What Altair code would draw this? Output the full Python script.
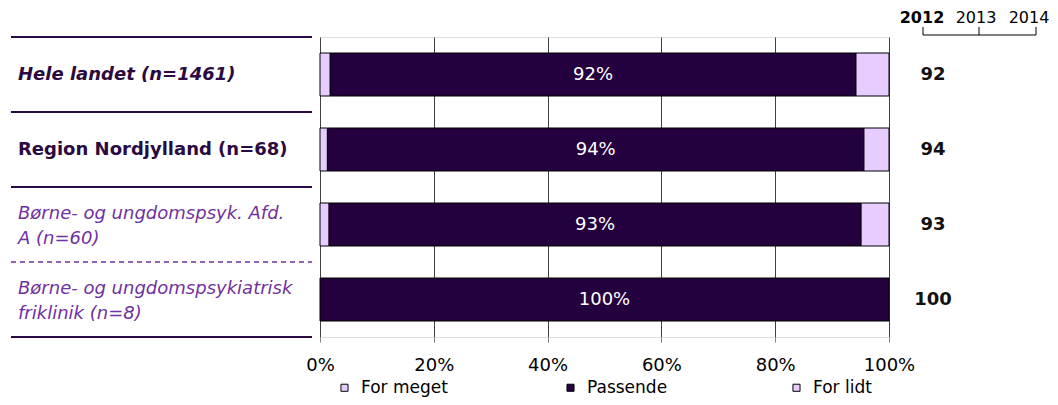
import altair as alt
import pandas as pd

categories = [
    "Hele landet (n=1461)",
    "Region Nordjylland (n=68)",
    "Børne- og ungdomspsyk. Afd. A (n=60)",
    "Børne- og ungdomspsykiatrisk friklinik (n=8)",
]
label_lines = [
    "Hele landet (n=1461)",
    "Region Nordjylland (n=68)",
    "Børne- og ungdomspsyk. Afd.\nA (n=60)",
    "Børne- og ungdomspsykiatrisk\nfriklinik (n=8)",
]
label_style = ["bolditalic", "bold", "italic", "italic"]
series = ["For meget", "Passende", "For lidt"]
for_meget = [1.8, 1.3, 1.6, 0.0]
passende = [92.4, 94.3, 93.5, 100.0]
for_lidt = [5.8, 4.4, 4.9, 0.0]
bar_labels = ["92%", "94%", "93%", "100%"]
values_2012 = ["92", "94", "93", "100"]
years = ["2012", "2013", "2014"]
x_ticks = [0, 20, 40, 60, 80, 100]

LIGHT = "#E6CCFF"
DARK = "#24003F"
LBL_DARK = "#2A0A40"
PURPLE = "#7030A0"
FONT = "DejaVu Sans"
FS = 18

W, H = 569, 300

# segments
rows = []
for i, c in enumerate(categories):
    start = 0.0
    for s, v in zip(series, [for_meget[i], passende[i], for_lidt[i]]):
        if v > 0:
            rows.append({"cat": c, "series": s, "start": start, "end": start + v})
        start += v
seg = pd.DataFrame(rows)

cat_df = pd.DataFrame({
    "cat": categories,
    "label": label_lines,
    "style": label_style,
    "mid": [fm + p / 2 for fm, p in zip(for_meget, passende)],
    "barlabel": bar_labels,
    "v2012": values_2012,
    "idx": list(range(len(categories))),
})

yenc = alt.Y("cat:N", sort=categories,
             scale=alt.Scale(domain=categories, paddingInner=0, paddingOuter=0),
             axis=None)
xscale = alt.Scale(domain=[0, 100], nice=False, zero=True)

bars = alt.Chart(seg).mark_bar(size=43, stroke="#000000", strokeWidth=1).encode(
    x=alt.X("start:Q", scale=xscale,
            axis=alt.Axis(values=x_ticks, labelExpr="datum.value + '%'", title=None,
                          grid=True, gridColor="#404040", gridWidth=1,
                          domain=False, tickColor="#808080", tickSize=5,
                          labelFontSize=FS, labelFont=FONT, labelColor="#000000",
                          labelPadding=14, labelFlush=False, labelOverlap=False)),
    x2="end:Q",
    y=yenc,
    color=alt.Color("series:N",
                    scale=alt.Scale(domain=series, range=[LIGHT, DARK, LIGHT]),
                    legend=alt.Legend(orient="none", legendX=16, legendY=342,
                                      direction="horizontal", columns=3, title=None,
                                      symbolType="square", symbolSize=50,
                                      symbolStrokeColor="#000000", symbolStrokeWidth=1,
                                      labelFontSize=17, labelFont=FONT, labelColor="#000000",
                                      gridAlign="all", columnPadding=114, labelOffset=8,
                                      padding=0)),
)

base = alt.Chart(cat_df)

inner_text = base.mark_text(color="#FFFFFF", fontSize=FS, font=FONT).encode(
    x=alt.X("mid:Q", scale=xscale), y=yenc, text="barlabel:N")

right_vals = base.mark_text(fontSize=FS, font=FONT, fontWeight="bold",
                            color="#111111").encode(
    x=alt.value(W + 44), y=yenc, text="v2012:N")

def left_labels(style, weight, fstyle, color, dy):
    return base.transform_filter(alt.datum.style == style).mark_text(
        align="left", baseline="middle", fontSize=FS, font=FONT, fontWeight=weight,
        fontStyle=fstyle, color=color, lineBreak="\n", lineHeight=25, dy=dy).encode(
        x=alt.value(-302), y=yenc, text="label:N")

lab1 = left_labels("bolditalic", "bold", "italic", LBL_DARK, 0)
lab2 = left_labels("bold", "bold", "normal", LBL_DARK, 0)
lab3 = left_labels("italic", "normal", "italic", PURPLE, -11)

y_top = alt.Y("cat:N", sort=categories, bandPosition=0,
              scale=alt.Scale(domain=categories, paddingInner=0, paddingOuter=0),
              axis=None)
sep_solid = base.transform_filter(alt.datum.idx < 3).mark_rule(
    color=LBL_DARK, strokeWidth=2).encode(
    y=y_top, x=alt.value(-309), x2=alt.value(-8))
sep_dash = base.transform_filter(alt.datum.idx == 3).mark_rule(
    color=PURPLE, strokeWidth=1.5, strokeDash=[5, 4]).encode(
    y=y_top, x=alt.value(-309), x2=alt.value(-8))
sep_bottom = base.transform_filter(alt.datum.idx == 0).mark_rule(
    color=LBL_DARK, strokeWidth=2).encode(
    y=alt.value(H), x=alt.value(-309), x2=alt.value(-8))

# year header with bracket
year_x = [W + 34, W + 90, W + 147]
year_text_x = [W + 33, W + 87, W + 140]
hdr_layers = []
for yr, xp, xt, bold in zip(years, year_x, year_text_x, [True, False, False]):
    hdr_layers.append(alt.Chart(pd.DataFrame({"t": [yr]})).mark_text(
        fontSize=16, font=FONT, fontWeight="bold" if bold else "normal",
        color="#000000", baseline="middle").encode(
        x=alt.value(xt), y=alt.value(-19), text="t:N"))
    hdr_layers.append(alt.Chart(pd.DataFrame({"t": [yr]})).mark_rule(
        color="#000000", strokeWidth=1).encode(
        x=alt.value(xp), y=alt.value(-10), y2=alt.value(-2)))
hdr_layers.append(alt.Chart(pd.DataFrame({"t": [0]})).mark_rule(
    color="#000000", strokeWidth=1).encode(
    x=alt.value(year_x[0]), x2=alt.value(year_x[-1]), y=alt.value(-2)))

chart = alt.layer(
    bars, inner_text, right_vals, lab1, lab2, lab3,
    sep_solid, sep_dash, sep_bottom, *hdr_layers
).properties(
    width=W, height=H,
    autosize=alt.AutoSizeParams(type="none"),
    padding={"left": 312, "top": 29, "right": 161, "bottom": 60},
).configure_view(stroke="#808080", strokeWidth=1.5).configure(background="#FFFFFF")

chart.save("out.html", embed_options={"renderer": "svg", "actions": False})
